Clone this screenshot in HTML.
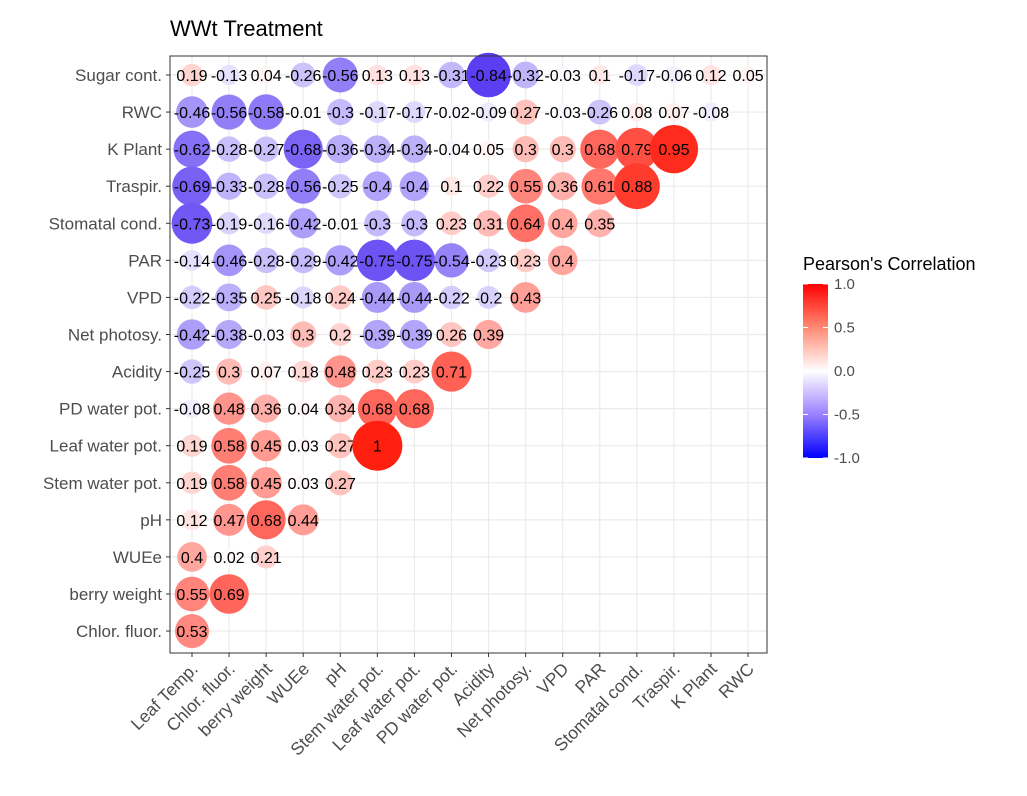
<!DOCTYPE html>
<html><head><meta charset="utf-8"><style>
body{margin:0;background:#fff;font-family:"Liberation Sans",Arial,sans-serif}
svg text{font-family:"Liberation Sans",Arial,sans-serif}
</style></head><body>
<svg id="chart" width="1027" height="791" xmlns="http://www.w3.org/2000/svg">
<rect width="1027" height="791" fill="#fff"/>
<text x="170" y="36" font-size="22" fill="#000">WWt Treatment</text>
<g id="grid"></g><g id="marks"></g><g id="axes"></g>
<g id="legend">
<defs><linearGradient id="cg" x1="0" y1="0" x2="0" y2="1">
<stop offset="0" stop-color="#ff0000"/><stop offset="0.25" stop-color="#ff8a73"/><stop offset="0.5" stop-color="#ffffff"/><stop offset="0.75" stop-color="#9a80ff"/><stop offset="1" stop-color="#0000ff"/></linearGradient></defs>
<text x="803" y="270" font-size="18" fill="#000">Pearson's Correlation</text>
<rect x="803" y="284" width="25" height="174" fill="url(#cg)"/>
</g>
</svg>
<script>
const rowLabels=["Sugar cont.","RWC","K Plant","Traspir.","Stomatal cond.","PAR","VPD","Net photosy.","Acidity","PD water pot.","Leaf water pot.","Stem water pot.","pH","WUEe","berry weight","Chlor. fluor."];
const colLabels=["Leaf Temp.","Chlor. fluor.","berry weight","WUEe","pH","Stem water pot.","Leaf water pot.","PD water pot.","Acidity","Net photosy.","VPD","PAR","Stomatal cond.","Traspir.","K Plant","RWC"];
const rowValues=[
[0.19,-0.13,0.04,-0.26,-0.56,0.13,0.13,-0.31,-0.84,-0.32,-0.03,0.1,-0.17,-0.06,0.12,0.05],
[-0.46,-0.56,-0.58,-0.01,-0.3,-0.17,-0.17,-0.02,-0.09,0.27,-0.03,-0.26,0.08,0.07,-0.08],
[-0.62,-0.28,-0.27,-0.68,-0.36,-0.34,-0.34,-0.04,0.05,0.3,0.3,0.68,0.79,0.95],
[-0.69,-0.33,-0.28,-0.56,-0.25,-0.4,-0.4,0.1,0.22,0.55,0.36,0.61,0.88],
[-0.73,-0.19,-0.16,-0.42,-0.01,-0.3,-0.3,0.23,0.31,0.64,0.4,0.35],
[-0.14,-0.46,-0.28,-0.29,-0.42,-0.75,-0.75,-0.54,-0.23,0.23,0.4],
[-0.22,-0.35,0.25,-0.18,0.24,-0.44,-0.44,-0.22,-0.2,0.43],
[-0.42,-0.38,-0.03,0.3,0.2,-0.39,-0.39,0.26,0.39],
[-0.25,0.3,0.07,0.18,0.48,0.23,0.23,0.71],
[-0.08,0.48,0.36,0.04,0.34,0.68,0.68],
[0.19,0.58,0.45,0.03,0.27,1],
[0.19,0.58,0.45,0.03,0.27],
[0.12,0.47,0.68,0.44],
[0.4,0.02,0.21],
[0.55,0.69],
[0.53]];
const legendTicks=[1.0,0.5,0.0,-0.5,-1.0];

const NS="http://www.w3.org/2000/svg";
const L=170,R=767,T=56,B=653,step=37.07;
const xPos=i=>192+i*step;
const yPos=j=>75+j*step;
const legY=v=>284+(1-v)/2*174;
function mk(tag,attrs,parent){const e=document.createElementNS(NS,tag);for(const k in attrs)e.setAttribute(k,attrs[k]);parent.appendChild(e);return e;}
function color(v){
  const a=Math.min(1,Math.abs(v));
  const end=v>=0?[255,32,16]:[60,25,240];
  return `rgb(${Math.round(255+(end[0]-255)*a)},${Math.round(255+(end[1]-255)*a)},${Math.round(255+(end[2]-255)*a)})`;
}
const grid=document.getElementById('grid'),marks=document.getElementById('marks'),axes=document.getElementById('axes'),leg=document.getElementById('legend');
colLabels.forEach((c,i)=>{const l=mk('line',{x1:xPos(i),x2:xPos(i),y1:T,y2:B,stroke:'#ebebeb','stroke-width':1.2},grid);

});
rowLabels.forEach((r,j)=>{const l=mk('line',{x1:L,x2:R,y1:yPos(j),y2:yPos(j),stroke:'#ebebeb','stroke-width':1.2},grid);

});
const border=mk('rect',{x:L,y:T,width:R-L,height:B-T,fill:'none',stroke:'#333','stroke-width':1},axes);


rowValues.forEach((row,j)=>{row.forEach((v,i)=>{
  const a=Math.abs(v);
  const d=a<0.015?0:16+34*a;
  const c=mk('circle',{cx:xPos(i),cy:yPos(j),r:d/2,fill:color(v)},marks);
  
  
  const t=mk('text',{x:xPos(i),y:yPos(j)+6,'text-anchor':'middle','font-size':16,fill:'#000'},marks);
  
  
  t.textContent=String(v);
});});
rowLabels.forEach((r,j)=>{
  const tk=mk('line',{x1:L-4,x2:L,y1:yPos(j),y2:yPos(j),stroke:'#333'},axes);
  
  
  const t=mk('text',{x:L-8,y:yPos(j)+6,'text-anchor':'end','font-size':17,fill:'#4d4d4d'},axes);
  
  
  t.textContent=r;
});
colLabels.forEach((c,i)=>{
  const tk=mk('line',{x1:xPos(i),x2:xPos(i),y1:B,y2:B+4,stroke:'#333'},axes);
  
  
  const x=xPos(i)+7,y=B+17;
  const t=mk('text',{x:x,y:y,'text-anchor':'end','font-size':17.5,fill:'#4d4d4d',transform:`rotate(-45 ${x} ${y})`},axes);
  
  
  t.textContent=c;
});
legendTicks.forEach(v=>{
  const y=legY(v);
  mk('line',{x1:803,x2:808,y1:y,y2:y,stroke:'#fff'},leg);
  mk('line',{x1:823,x2:828,y1:y,y2:y,stroke:'#fff'},leg);
  const t=mk('text',{x:834,y:y+5,'font-size':15,fill:'#4d4d4d'},leg);
  
  
  t.textContent=v.toFixed(1);
});
</script>
</body></html>
